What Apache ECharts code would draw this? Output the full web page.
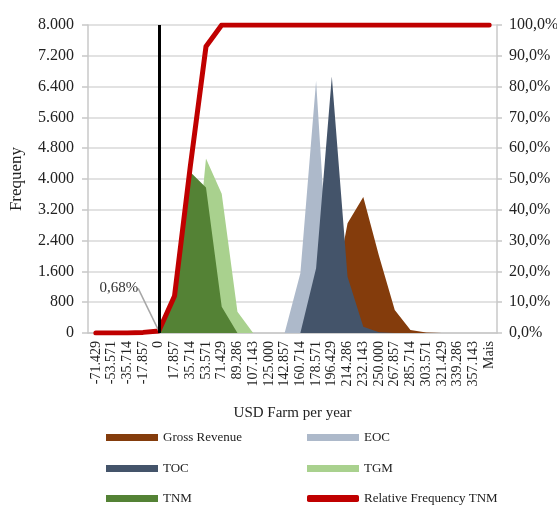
<!DOCTYPE html>
<html>
<head>
<meta charset="utf-8">
<script src="https://cdn.jsdelivr.net/npm/echarts@6/dist/echarts.min.js"></script>
<style>html,body{margin:0;padding:0;background:#fff;}#c{width:557px;height:505px;}</style>
</head>
<body>
<div id="c"></div>
<script>
const categories = ['-71.429','-53.571','-35.714','-17.857','0','17.857','35.714','53.571','71.429','89.286','107.143','125.000','142.857','160.714','178.571','196.429','214.286','232.143','250.000','267.857','285.714','303.571','321.429','339.286','357.143','Mais'];
const grossRevenue = [0,0,0,0,0,0,0,0,0,0,0,0,0,0,0,700,2850,3530,2000,600,80,10,0,0,0,0];
const eoc          = [0,0,0,0,0,0,0,0,0,0,0,0,0,1550,6550,0,0,0,0,0,0,0,0,0,0,0];
const toc          = [0,0,0,0,0,0,0,0,0,0,0,0,0,0,1680,6660,1460,160,20,0,0,0,0,0,0,0];
const tgm          = [0,0,0,0,0,0,300,4530,3620,550,0,0,0,0,0,0,0,0,0,0,0,0,0,0,0,0];
const tnm          = [0,0,0,20,50,940,4180,3780,680,0,0,0,0,0,0,0,0,0,0,0,0,0,0,0,0,0];
const relFreqTNM   = [0,0,0,0.2,0.68,12,54,93,100,100,100,100,100,100,100,100,100,100,100,100,100,100,100,100,100,100];
const leftTicks = {min:0, max:8000, interval:800};
const rightTicks = {min:0, max:100, interval:10};
const legendCol1 = ['Gross Revenue','TOC','TNM'];
const legendCol2 = ['EOC','TGM','Relative Frequency TNM'];

const font = 'Liberation Serif';
const txt = '#222';
const chart = echarts.init(document.getElementById('c'), null, {renderer:'canvas'});

function area(name, data, color){
  return {name, type:'line', data, symbol:'none', yAxisIndex:0,
    lineStyle:{width:0, color}, itemStyle:{color}, areaStyle:{color, opacity:1}};
}
const zeroIdx = categories.indexOf('0');
const labelIdx = zeroIdx;
const relData = relFreqTNM.map((v,i)=> i===labelIdx ? {value:v, label:{show:true}, labelLine:{show:true}} : v);

const rowTops = [426, 457, 487];
const legends = [];
function addLegend(names, left){
  names.forEach((n,i)=>{
    legends.push({orient:'horizontal', left, top:rowTops[i], itemWidth:52, itemHeight:7,
      textStyle:{fontFamily:font, fontSize:13, color:txt},
      data:[{name:n, icon: n.indexOf('Relative')===0 ? 'roundRect' : 'rect'}]});
  });
}
addLegend(legendCol1, 101);
addLegend(legendCol2, 302);

chart.setOption({
  animation:false,
  grid:{left:88, right:60, top:25, bottom:172, containLabel:false, outerBoundsMode:'none'},
  xAxis:{type:'category', data:categories, boundaryGap:true,
    axisLine:{lineStyle:{color:'#c8c8c8', width:1.5}},
    axisTick:{show:false},
    axisLabel:{rotate:90, interval:0, fontFamily:font, fontSize:14, color:txt, margin:8},
    name:'USD Farm per year', nameLocation:'middle', nameGap:73,
    nameTextStyle:{fontFamily:font, fontSize:15, color:txt}
  },
  yAxis:[
    {type:'value', min:leftTicks.min, max:leftTicks.max, interval:leftTicks.interval,
      name:'Frequeny', nameLocation:'middle', nameGap:63, nameRotate:90,
      nameTextStyle:{fontFamily:font, fontSize:17, color:txt},
      axisLine:{show:true, lineStyle:{color:'#c8c8c8', width:1.5}},
      axisTick:{show:true, length:6, lineStyle:{color:'#c8c8c8', width:1.5}},
      splitLine:{lineStyle:{color:'#d9d9d9', width:1.5}},
      axisLabel:{fontFamily:font, fontSize:16, color:txt, margin:14,
        formatter:v=> v>=1000 ? Math.floor(v/1000)+'.'+String(v%1000).padStart(3,'0') : String(v)}
    },
    {type:'value', min:rightTicks.min, max:rightTicks.max, interval:rightTicks.interval, position:'right',
      axisLine:{show:true, lineStyle:{color:'#c8c8c8', width:1.5}},
      axisTick:{show:true, length:5, lineStyle:{color:'#c8c8c8', width:1.5}},
      splitLine:{show:false},
      axisLabel:{fontFamily:font, fontSize:16, color:txt, margin:12,
        formatter:v=> v.toFixed(1).replace('.',',')+'%'}
    }
  ],
  legend:legends,
  series:[
    area('Gross Revenue', grossRevenue, '#843C0C'),
    area('EOC', eoc, '#ADB9CA'),
    area('TOC', toc, '#44546A'),
    area('TGM', tgm, '#A9D18E'),
    Object.assign(area('TNM', tnm, '#548235'), {
      markLine:{silent:true, symbol:['none','none'], label:{show:false},
        lineStyle:{color:'#000', width:3, type:'solid'},
        data:[{xAxis:zeroIdx}]}
    }),
    {name:'Relative Frequency TNM', type:'line', yAxisIndex:1, data:relData,
      symbol:'circle', symbolSize:0.1, showSymbol:true, showAllSymbol:true,
      lineStyle:{color:'#C00000', width:5, cap:'round', join:'round'}, itemStyle:{color:'#C00000'},
      label:{show:false, formatter:'0,68%', fontFamily:font, fontSize:15, color:'#333', position:'top'},
      labelLine:{show:false, lineStyle:{color:'#a6a6a6', width:1.5}},
      labelLayout:function(p){ return p.dataIndex===labelIdx ? {dx:-40, dy:-30} : {}; },
      z:3}
  ]
});
</script>
</body>
</html>
